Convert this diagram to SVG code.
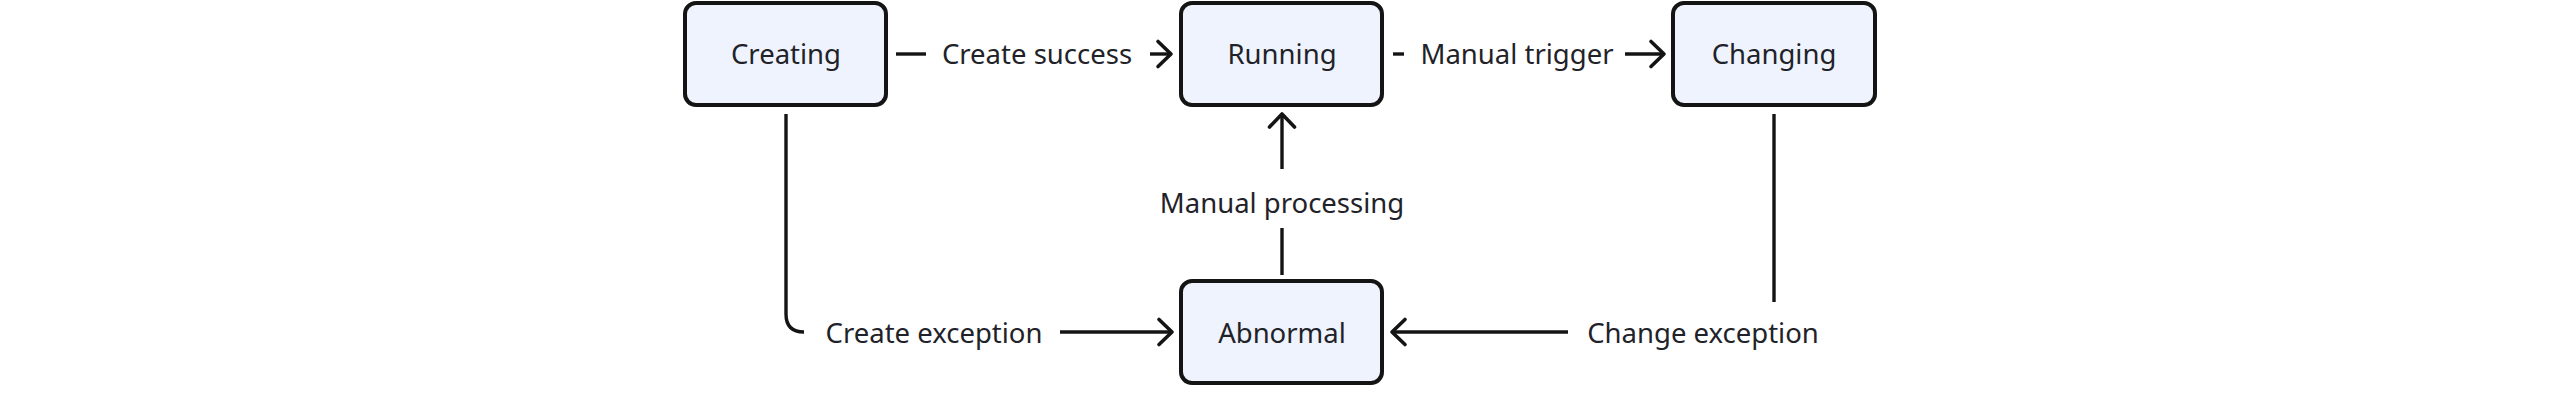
<svg xmlns="http://www.w3.org/2000/svg" width="2560" height="408" viewBox="0 0 2560 408">
  <style>
    .box { fill: #eef3fd; stroke: #141414; stroke-width: 4; }
    .lbl { font-family: "Noto Sans", "Liberation Sans", sans-serif; font-size: 27.5px; fill: #1f2329; text-anchor: middle; }
    .con { fill: none; stroke: #141414; stroke-width: 3.4; }
  </style>
  <defs>
    <marker id="arrow" markerUnits="userSpaceOnUse" viewBox="-16 -16 20 32" markerWidth="20" markerHeight="32" refX="0" refY="0" orient="auto">
      <path d="M-13,-12.5 L0,0 L-13,12.5" fill="none" stroke="#141414" stroke-width="3.6" stroke-linejoin="round" stroke-linecap="round"/>
    </marker>
  </defs>
  <rect width="2560" height="408" fill="#ffffff"/>

  <g id="connectors">
    <path class="con" d="M896,54 H926"/>
    <path class="con" d="M1150,54 H1171" marker-end="url(#arrow)"/>
    <path class="con" d="M1393,54 H1404"/>
    <path class="con" d="M1625,54 H1664" marker-end="url(#arrow)"/>
    <path class="con" d="M786,114 V314 Q786,332 804,332"/>
    <path class="con" d="M1060,332 H1172" marker-end="url(#arrow)"/>
    <path class="con" d="M1774,114 V302"/>
    <path class="con" d="M1568,332 H1392" marker-end="url(#arrow)"/>
    <path class="con" d="M1282,275 V228"/>
    <path class="con" d="M1282,169 V114" marker-end="url(#arrow)"/>
    <text class="lbl" x="1037" y="64">Create success</text>
    <text class="lbl" x="1517" y="64">Manual trigger</text>
    <text class="lbl" x="934" y="343">Create exception</text>
    <text class="lbl" x="1703" y="343">Change exception</text>
    <text class="lbl" x="1282" y="213">Manual processing</text>
  </g>

  <g id="node-creating">
    <rect class="box" x="685" y="3" width="201" height="102" rx="11"/>
    <text class="lbl" x="786" y="64">Creating</text>
  </g>
  <g id="node-running">
    <rect class="box" x="1181" y="3" width="201" height="102" rx="11"/>
    <text class="lbl" x="1282" y="64">Running</text>
  </g>
  <g id="node-changing">
    <rect class="box" x="1673" y="3" width="202" height="102" rx="11"/>
    <text class="lbl" x="1774" y="64">Changing</text>
  </g>
  <g id="node-abnormal">
    <rect class="box" x="1181" y="281" width="201" height="102" rx="11"/>
    <text class="lbl" x="1282" y="343">Abnormal</text>
  </g>
</svg>
